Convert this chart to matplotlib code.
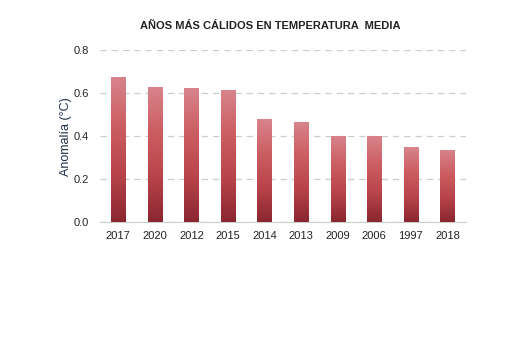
import matplotlib

matplotlib.use("Agg")
import matplotlib.pyplot as plt
import numpy as np
from matplotlib.colors import LinearSegmentedColormap

# Anomalía de temperatura media (°C), años más cálidos
YEARS = ["2017", "2020", "2012", "2015", "2014", "2013", "2009", "2006", "1997", "2018"]
ANOMALY = [0.673, 0.627, 0.622, 0.613, 0.478, 0.466, 0.400, 0.400, 0.348, 0.336]

GRAD = LinearSegmentedColormap.from_list(
    "warm", ["#8a2630", "#b8444a", "#cc5e62", "#d8848c"])


def main():
    plt.rcParams["font.family"] = ["Liberation Sans", "DejaVu Sans"]
    fig = plt.figure(figsize=(5.25, 3.56), dpi=100)
    ax = fig.add_axes([0.1905, 0.3756, 0.6965, 0.484])

    x = np.arange(len(YEARS))
    bars = ax.bar(x, ANOMALY, width=0.39, color="none", edgecolor="none", zorder=3)

    grad = np.linspace(0, 1, 256).reshape(-1, 1)
    for bar in bars:
        x0 = bar.get_x()
        x1 = x0 + bar.get_width()
        h = bar.get_height()
        im = ax.imshow(grad, cmap=GRAD, origin="lower", aspect="auto",
                       extent=[x0, x1, 0, h], zorder=3)
        im.set_clip_path(bar)

    ax.set_xlim(-0.5, len(YEARS) - 0.5)
    ax.set_ylim(0, 0.8)
    ax.set_yticks([0.0, 0.2, 0.4, 0.6, 0.8])
    ax.set_yticklabels([f"{v:.1f}" for v in [0.0, 0.2, 0.4, 0.6, 0.8]])
    ax.set_xticks(x)
    ax.set_xticklabels(YEARS)
    ax.tick_params(axis="both", length=0, labelsize=8, colors="#222222", pad=6)
    ax.tick_params(axis="y", pad=8)

    ax.grid(axis="y", linestyle=(0, (5, 4)), color="#c8cfc8", linewidth=0.9, zorder=0)
    for side in ["left", "right", "top"]:
        ax.spines[side].set_visible(False)
    ax.spines["bottom"].set_color("#c8d0c8")

    ax.set_ylabel("Anomalía (°C)", fontsize=9, color="#1f2d4a", labelpad=1)
    fig.text(0.514, 0.928, "AÑOS MÁS CÁLIDOS EN TEMPERATURA  MEDIA",
             ha="center", va="center", fontsize=8, weight="bold", color="#222222")

    fig.savefig("out.png", dpi=100)


if __name__ == "__main__":
    main()
